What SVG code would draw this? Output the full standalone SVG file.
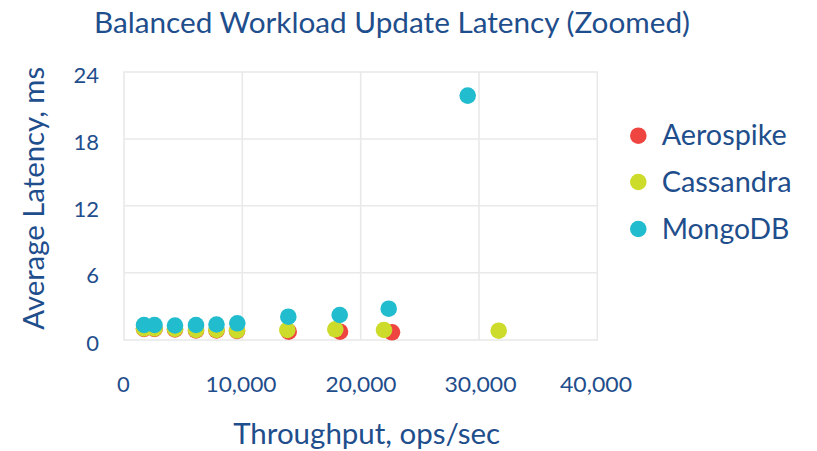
<svg xmlns="http://www.w3.org/2000/svg" width="817" height="451" viewBox="0 0 817 451">
  <style>
    .t { font-family: Lato, "Open Sans", "DejaVu Sans", sans-serif; fill: #1f4e8c; }
    .big { font-size: 28.5px; }
    .tick { font-size: 22px; }
    .grid { stroke: #e9e9e9; stroke-width: 1.6; fill: none; }
    .ae { fill: #ef4540; }
    .ca { fill: #cddb2a; }
    .mo { fill: #22bccf; }
  </style>
  <rect width="817" height="451" fill="#ffffff"/>

  <g id="title">
    <text class="t big" x="392" y="33.3" text-anchor="middle" textLength="596" lengthAdjust="spacingAndGlyphs">Balanced Workload Update Latency (Zoomed)</text>
  </g>

  <g id="plot-grid">
    <rect class="grid" x="124" y="72" width="473.3" height="268"/>
    <line class="grid" x1="242.3" y1="72" x2="242.3" y2="340"/>
    <line class="grid" x1="360.7" y1="72" x2="360.7" y2="340"/>
    <line class="grid" x1="479" y1="72" x2="479" y2="340"/>
    <line class="grid" x1="124" y1="139" x2="597.3" y2="139"/>
    <line class="grid" x1="124" y1="205.7" x2="597.3" y2="205.7"/>
    <line class="grid" x1="124" y1="272.7" x2="597.3" y2="272.7"/>
  </g>

  <g id="y-axis">
    <text class="t tick" x="99" y="83.3" text-anchor="end">24</text>
    <text class="t tick" x="99" y="150" text-anchor="end">18</text>
    <text class="t tick" x="99" y="216.7" text-anchor="end">12</text>
    <text class="t tick" x="99" y="283.3" text-anchor="end">6</text>
    <text class="t tick" x="99" y="350.7" text-anchor="end">0</text>
    <text class="t big" transform="translate(43.5,198.3) rotate(-90)" text-anchor="middle" textLength="263" lengthAdjust="spacingAndGlyphs">Average Latency, ms</text>
  </g>

  <g id="x-axis">
    <text class="t tick" x="123.5" y="392.3" text-anchor="middle">0</text>
    <text class="t tick" x="241" y="392.3" text-anchor="middle" textLength="71" lengthAdjust="spacingAndGlyphs">10,000</text>
    <text class="t tick" x="361" y="392.3" text-anchor="middle" textLength="71" lengthAdjust="spacingAndGlyphs">20,000</text>
    <text class="t tick" x="480.5" y="392.3" text-anchor="middle" textLength="72" lengthAdjust="spacingAndGlyphs">30,000</text>
    <text class="t tick" x="596" y="392.3" text-anchor="middle" textLength="72" lengthAdjust="spacingAndGlyphs">40,000</text>
    <text class="t big" x="366.7" y="443.7" text-anchor="middle" textLength="267" lengthAdjust="spacingAndGlyphs">Throughput, ops/sec</text>
  </g>

  <g id="series-aerospike">
    <circle class="ae" cx="144" cy="329" r="8.3"/>
    <circle class="ae" cx="154.5" cy="329" r="8.3"/>
    <circle class="ae" cx="175" cy="329.5" r="8.3"/>
    <circle class="ae" cx="196" cy="330.5" r="8.3"/>
    <circle class="ae" cx="216.5" cy="330.5" r="8.3"/>
    <circle class="ae" cx="237" cy="331" r="8.3"/>
    <circle class="ae" cx="288.7" cy="331.7" r="8.3"/>
    <circle class="ae" cx="340" cy="331.7" r="8.3"/>
    <circle class="ae" cx="392" cy="332.3" r="8.3"/>
  </g>

  <g id="series-cassandra">
    <circle class="ca" cx="144" cy="328.5" r="8.3"/>
    <circle class="ca" cx="154.5" cy="328.5" r="8.3"/>
    <circle class="ca" cx="175" cy="329" r="8.3"/>
    <circle class="ca" cx="196" cy="330" r="8.3"/>
    <circle class="ca" cx="216.5" cy="330" r="8.3"/>
    <circle class="ca" cx="237" cy="330.5" r="8.3"/>
    <circle class="ca" cx="287.3" cy="330" r="8.3"/>
    <circle class="ca" cx="335.3" cy="329.3" r="8.3"/>
    <circle class="ca" cx="384" cy="330" r="8.3"/>
    <circle class="ca" cx="498.7" cy="330.7" r="8.3"/>
  </g>

  <g id="series-mongodb">
    <circle class="mo" cx="144" cy="325" r="8.3"/>
    <circle class="mo" cx="154.5" cy="325" r="8.3"/>
    <circle class="mo" cx="175" cy="325.5" r="8.3"/>
    <circle class="mo" cx="196" cy="325" r="8.3"/>
    <circle class="mo" cx="216.5" cy="324.5" r="8.3"/>
    <circle class="mo" cx="237.3" cy="323.3" r="8.3"/>
    <circle class="mo" cx="288.3" cy="316.7" r="8.3"/>
    <circle class="mo" cx="339.7" cy="315" r="8.3"/>
    <circle class="mo" cx="388.7" cy="308.7" r="8.3"/>
    <circle class="mo" cx="467.7" cy="95.6" r="8.3"/>
  </g>

  <g id="legend">
    <g id="legend-aerospike">
      <circle class="ae" cx="638.3" cy="135.7" r="8.3"/>
      <text class="t big" x="661.7" y="145" textLength="125" lengthAdjust="spacingAndGlyphs">Aerospike</text>
    </g>
    <g id="legend-cassandra">
      <circle class="ca" cx="638.3" cy="182" r="8.3"/>
      <text class="t big" x="661.7" y="192.3" textLength="130" lengthAdjust="spacingAndGlyphs">Cassandra</text>
    </g>
    <g id="legend-mongodb">
      <circle class="mo" cx="638.3" cy="229" r="8.3"/>
      <text class="t big" x="661.7" y="239.3" textLength="127.7" lengthAdjust="spacingAndGlyphs">MongoDB</text>
    </g>
  </g>
</svg>
